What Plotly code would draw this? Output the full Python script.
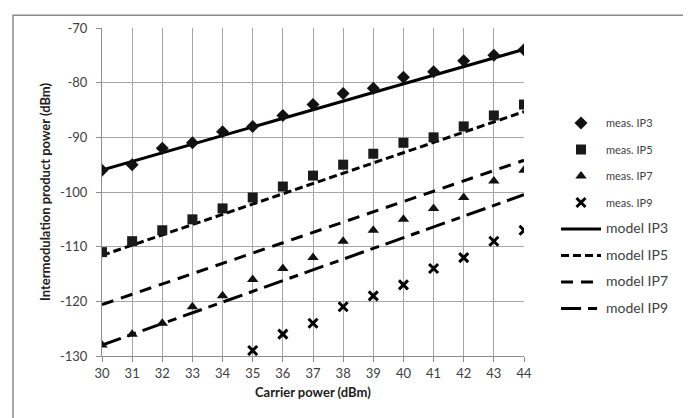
import plotly.graph_objects as go

# ---- data ----
carrier = [30, 31, 32, 33, 34, 35, 36, 37, 38, 39, 40, 41, 42, 43, 44]
meas_ip3 = [-96, -95, -92, -91, -89, -88, -86, -84, -82, -81, -79, -78, -76, -75, -74]
meas_ip5 = [-111, -109, -107, -105, -103, -101, -99, -97, -95, -93, -91, -90, -88, -86, -84]
meas_ip7 = [-128, -126, -124, -121, -119, -116, -114, -112, -109, -107, -105, -103, -101, -98, -96]
carrier_ip9 = [35, 36, 37, 38, 39, 40, 41, 42, 43, 44]
meas_ip9 = [-129, -126, -124, -121, -119, -117, -114, -112, -109, -107]

model_x = [30, 44]
model_ip3 = [-96.0, -73.9]
model_ip5 = [-111.6, -85.3]
model_ip7 = [-120.6, -94.2]
model_ip9 = [-128.0, -100.5]

x_ticks = list(range(30, 45))
x_labels = [str(v) for v in x_ticks]
y_ticks = [-130, -120, -110, -100, -90, -80, -70]
y_labels = ["-130", "-120", "-110", "-100", "-90", "-80", "-70"]

FONT = "Lato, Carlito, 'Liberation Sans', sans-serif"

fig = go.Figure()

def model_name(t):
    return f"<span style='font-size:14px'>{t}</span>"

# model lines (drawn first so markers sit on top)
fig.add_trace(go.Scatter(x=model_x, y=model_ip3, mode="lines", name=model_name("model IP3"),
                         line=dict(color="black", width=3), legendrank=5, legendgroup="m3"))
fig.add_trace(go.Scatter(x=model_x, y=model_ip5, mode="lines", name=model_name("model IP5"),
                         line=dict(color="black", width=3, dash="8px,4px"), legendrank=6, legendgroup="m5"))
fig.add_trace(go.Scatter(x=model_x, y=model_ip7, mode="lines", name=model_name("model IP7"),
                         line=dict(color="black", width=3, dash="12px,8px"), legendrank=7, legendgroup="m7"))
fig.add_trace(go.Scatter(x=model_x, y=model_ip9, mode="lines", name=model_name("model IP9"),
                         line=dict(color="black", width=3, dash="20px,7px,9px,7px"), legendrank=8, legendgroup="m9"))

# measured markers
fig.add_trace(go.Scatter(x=carrier, y=meas_ip3, mode="markers", name="meas. IP3",
                         marker=dict(symbol="diamond", size=10, color="#111111"), legendrank=1, legendgroup="a3"))
fig.add_trace(go.Scatter(x=carrier, y=meas_ip5, mode="markers", name="meas. IP5",
                         marker=dict(symbol="square", size=10, color="#1a1a1a"), legendrank=2, legendgroup="a5"))
fig.add_trace(go.Scatter(x=carrier, y=meas_ip7, mode="markers", name="meas. IP7",
                         marker=dict(symbol="triangle-up", size=10, color="#111111"), legendrank=3, legendgroup="a7"))
fig.add_trace(go.Scatter(x=carrier_ip9, y=meas_ip9, mode="markers", name="meas. IP9",
                         marker=dict(symbol="x-thin", size=9, color="black",
                                     line=dict(color="black", width=3)), legendrank=4, legendgroup="a9"))

OFF = 8  # page body margin
W, H = 691 - OFF, 418 - OFF
L, R, T, B = 102 - OFF, 524 - OFF, 22 - OFF, 356 - OFF
pw, ph = R - L, B - T

def px(xp):
    return (xp - OFF - L) / pw

def py(yp):
    return (B - (yp - OFF)) / ph

fig.update_layout(
    width=W, height=H,
    margin=dict(l=L, r=W - R, t=T, b=H - B, pad=0),
    paper_bgcolor="white", plot_bgcolor="white",
    font=dict(family=FONT, size=13, color="#404040"),
    showlegend=True,
    legend=dict(x=px(556), y=py(104), xanchor="left", yanchor="top",
                font=dict(family=FONT, size=11, color="#404040"),
                tracegroupgap=7.5, bgcolor="rgba(0,0,0,0)", itemwidth=40),
    xaxis=dict(range=[30, 44], tickvals=x_ticks, ticktext=x_labels, ticks="outside", ticklen=5,
               tickcolor="#8c8c8c", showgrid=True, gridcolor="#a6a6a6", gridwidth=1,
               showline=True, linecolor="#8c8c8c", linewidth=1, zeroline=False,
               tickfont=dict(size=13, color="#404040")),
    yaxis=dict(range=[-130, -70], tickvals=y_ticks, ticktext=y_labels, ticks="outside", ticklen=5,
               tickcolor="#8c8c8c", showgrid=True, gridcolor="#a6a6a6", gridwidth=1,
               showline=True, linecolor="#8c8c8c", linewidth=1, zeroline=False,
               tickfont=dict(size=13, color="#404040"), ticklabelstandoff=6),
    annotations=[
        dict(text="<b>Carrier power (dBm)</b>", xref="paper", yref="paper",
             x=px(313), y=py(393), showarrow=False, xanchor="center", yanchor="middle",
             font=dict(family=FONT, size=13, color="#202020")),
        dict(text="<b>Intermodulation product power (dBm)</b>", xref="paper", yref="paper",
             x=px(45), y=py(189), showarrow=False, xanchor="center", yanchor="middle",
             textangle=-90, font=dict(family=FONT, size=13, color="#202020")),
    ],
    shapes=[
        dict(type="rect", xref="paper", yref="paper", x0=px(13), x1=px(685), y0=py(425), y1=py(9),
             line=dict(color="#8a8a8a", width=1.5), fillcolor="rgba(0,0,0,0)", layer="below"),
        dict(type="line", xref="paper", yref="paper", x0=px(685.5), x1=px(685.5), y0=py(425), y1=py(9),
             line=dict(color="#808080", width=2.5), layer="below"),
    ],
)

fig.write_html("out.html")
